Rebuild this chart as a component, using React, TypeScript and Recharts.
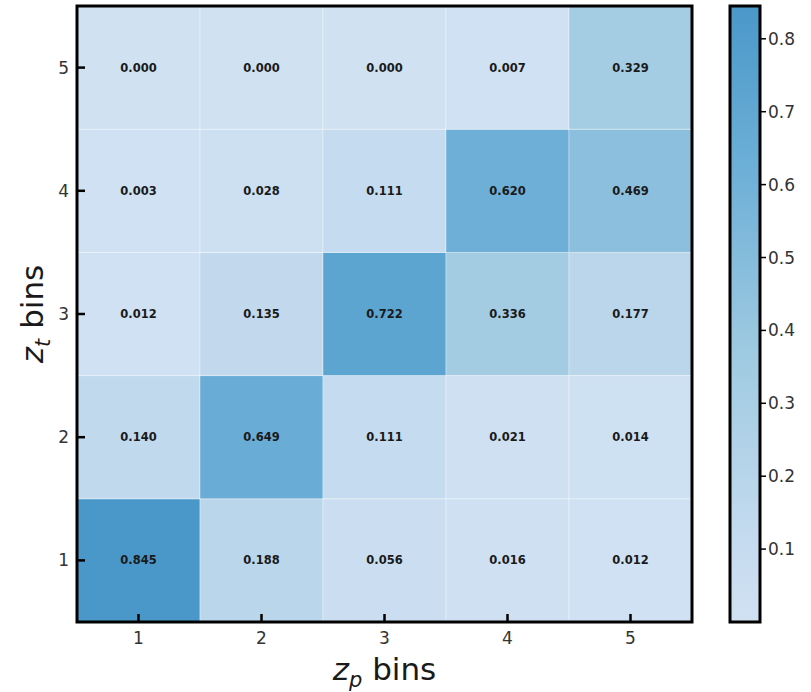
import React from 'react';
import { ComposedChart, XAxis, YAxis, ReferenceArea, Label } from 'recharts';

// ---- data ----
const xBins = [1, 2, 3, 4, 5]; // z_p bins
const yBins = [1, 2, 3, 4, 5]; // z_t bins
const row1 = [0.845, 0.188, 0.056, 0.016, 0.012];
const row2 = [0.140, 0.649, 0.111, 0.021, 0.014];
const row3 = [0.012, 0.135, 0.722, 0.336, 0.177];
const row4 = [0.003, 0.028, 0.111, 0.620, 0.469];
const row5 = [0.000, 0.000, 0.000, 0.007, 0.329];
const rows = [row1, row2, row3, row4, row5];
const colorbarTicks = [0.1, 0.2, 0.3, 0.4, 0.5, 0.6, 0.7, 0.8];

const VMIN = 0;
const VMAX = Math.max(...rows.flat());

// ---- colormap (matplotlib Blues, truncated) ----
const BLUES = ['#f7fbff', '#deebf7', '#c6dbef', '#9ecae1', '#6baed6', '#4292c6', '#2171b5', '#08519c', '#08306b'];
const CMAP_LO = 0.2;
const CMAP_HI = 0.6;
function hexToRgb(h: string) {
  return [parseInt(h.slice(1, 3), 16), parseInt(h.slice(3, 5), 16), parseInt(h.slice(5, 7), 16)];
}
function blues(t: number) {
  const p = Math.max(0, Math.min(1, t)) * (BLUES.length - 1);
  const i = Math.min(BLUES.length - 2, Math.floor(p));
  const f = p - i;
  const a = hexToRgb(BLUES[i]);
  const b = hexToRgb(BLUES[i + 1]);
  const c = a.map((v, k) => Math.round(v + (b[k] - v) * f));
  return `rgb(${c[0]},${c[1]},${c[2]})`;
}
function colorFor(v: number) {
  const n = (v - VMIN) / (VMAX - VMIN);
  return blues(CMAP_LO + n * (CMAP_HI - CMAP_LO));
}

const FONT = '"DejaVu Sans", Verdana, sans-serif';
const TICK_COLOR = '#333';

const cells = rows.flatMap((r, yi) =>
  r.map((v, xi) => ({ x: xBins[xi], y: yBins[yi], v }))
);

const gradStops = Array.from({ length: 21 }, (_, i) => i / 20);
const colorbarData = [{ cx: 0, cv: VMIN }, { cx: 1, cv: VMAX }];

const XLabel = (props: any) => {
  const vb = props.viewBox;
  const cx = vb.x + vb.width / 2;
  const by = vb.y + 58;
  return (
    <text x={cx} y={by} textAnchor="middle" fontSize={31} fontFamily={FONT} fill="#1a1a1a">
      <tspan fontStyle="italic">z</tspan>
      <tspan fontStyle="italic" fontSize={21} dy={7}>p</tspan>
      <tspan dy={-7}> bins</tspan>
    </text>
  );
};

const YLabel = (props: any) => {
  const vb = props.viewBox;
  const cy = vb.y + vb.height / 2;
  const cx = 43;
  return (
    <text x={cx} y={cy} textAnchor="middle" fontSize={31} fontFamily={FONT} fill="#1a1a1a" transform={`rotate(-90, ${cx}, ${cy})`}>
      <tspan fontStyle="italic">z</tspan>
      <tspan fontStyle="italic" fontSize={21} dy={7}>t</tspan>
      <tspan dy={-7}> bins</tspan>
    </text>
  );
};

export default function App() {
  return (
    <div style={{ position: 'absolute', left: 0, top: 0, width: 811, height: 692, background: '#fff' }}>
      <div style={{ position: 'absolute', left: 0, top: 0 }}>
        <ComposedChart width={811} height={692} margin={{ top: 6, right: 119, bottom: 0, left: 0 }}>
          {cells.map((c) => (
            <ReferenceArea
              key={`c-${c.x}-${c.y}`}
              x1={c.x - 0.5}
              x2={c.x + 0.5}
              y1={c.y - 0.5}
              y2={c.y + 0.5}
              fill={colorFor(c.v)}
              fillOpacity={1}
              stroke="#ffffff"
              strokeOpacity={0.35}
              strokeWidth={1}
              ifOverflow="visible"
              label={
                <Label
                  value={c.v.toFixed(3)}
                  position="center"
                  fontSize={11.5}
                  fontWeight="bold"
                  fontFamily={FONT}
                  fill="#1a1a1a"
                />
              }
            />
          ))}
          <ReferenceArea
            x1={0.5}
            x2={5.5}
            y1={0.5}
            y2={5.5}
            fill="none"
            fillOpacity={0}
            stroke="#000"
            strokeWidth={3}
            ifOverflow="visible"
          />
          <XAxis
            type="number"
            dataKey="x"
            domain={[0.5, 5.5]}
            ticks={xBins}
            allowDataOverflow
            height={70}
            axisLine={false}
            tickSize={-8}
            tickMargin={18}
            tickLine={{ stroke: '#000', strokeWidth: 2.5 }}
            tick={{ fontSize: 17, fontFamily: FONT, fill: TICK_COLOR }}
          >
            <Label content={<XLabel />} />
          </XAxis>
          <YAxis
            type="number"
            dataKey="y"
            domain={[0.5, 5.5]}
            ticks={yBins}
            allowDataOverflow
            width={77}
            axisLine={false}
            tickSize={-8}
            tickMargin={16}
            tickLine={{ stroke: '#000', strokeWidth: 2.5 }}
            tick={{ fontSize: 17, fontFamily: FONT, fill: TICK_COLOR }}
          >
            <Label content={<YLabel />} />
          </YAxis>
        </ComposedChart>
      </div>
      <div style={{ position: 'absolute', left: 0, top: 0 }}>
        <ComposedChart width={811} height={692} data={colorbarData} margin={{ top: 6, right: 0, bottom: 70, left: 730 }}>
          <defs>
            <linearGradient id="cbGrad" x1="0" y1="1" x2="0" y2="0">
              {gradStops.map((s) => (
                <stop key={s} offset={`${s * 100}%`} stopColor={colorFor(VMIN + s * (VMAX - VMIN))} />
              ))}
            </linearGradient>
          </defs>
          <ReferenceArea
            x1={0}
            x2={1}
            y1={VMIN}
            y2={VMAX}
            fill="url(#cbGrad)"
            fillOpacity={1}
            stroke="#000"
            strokeWidth={3}
            ifOverflow="visible"
          />
          <XAxis
            type="number"
            dataKey="cx"
            domain={[0, 1]}
            allowDataOverflow
            height={0}
            axisLine={false}
            tickLine={false}
            tick={false}
          />
          <YAxis
            type="number"
            dataKey="cv"
            orientation="right"
            domain={[VMIN, VMAX]}
            ticks={colorbarTicks}
            allowDataOverflow
            width={51}
            axisLine={false}
            tickSize={6}
            tickMargin={2}
            tickLine={{ stroke: '#000', strokeWidth: 1.5 }}
            tick={{ fontSize: 17, fontFamily: FONT, fill: TICK_COLOR }}
          />
        </ComposedChart>
      </div>
    </div>
  );
}
